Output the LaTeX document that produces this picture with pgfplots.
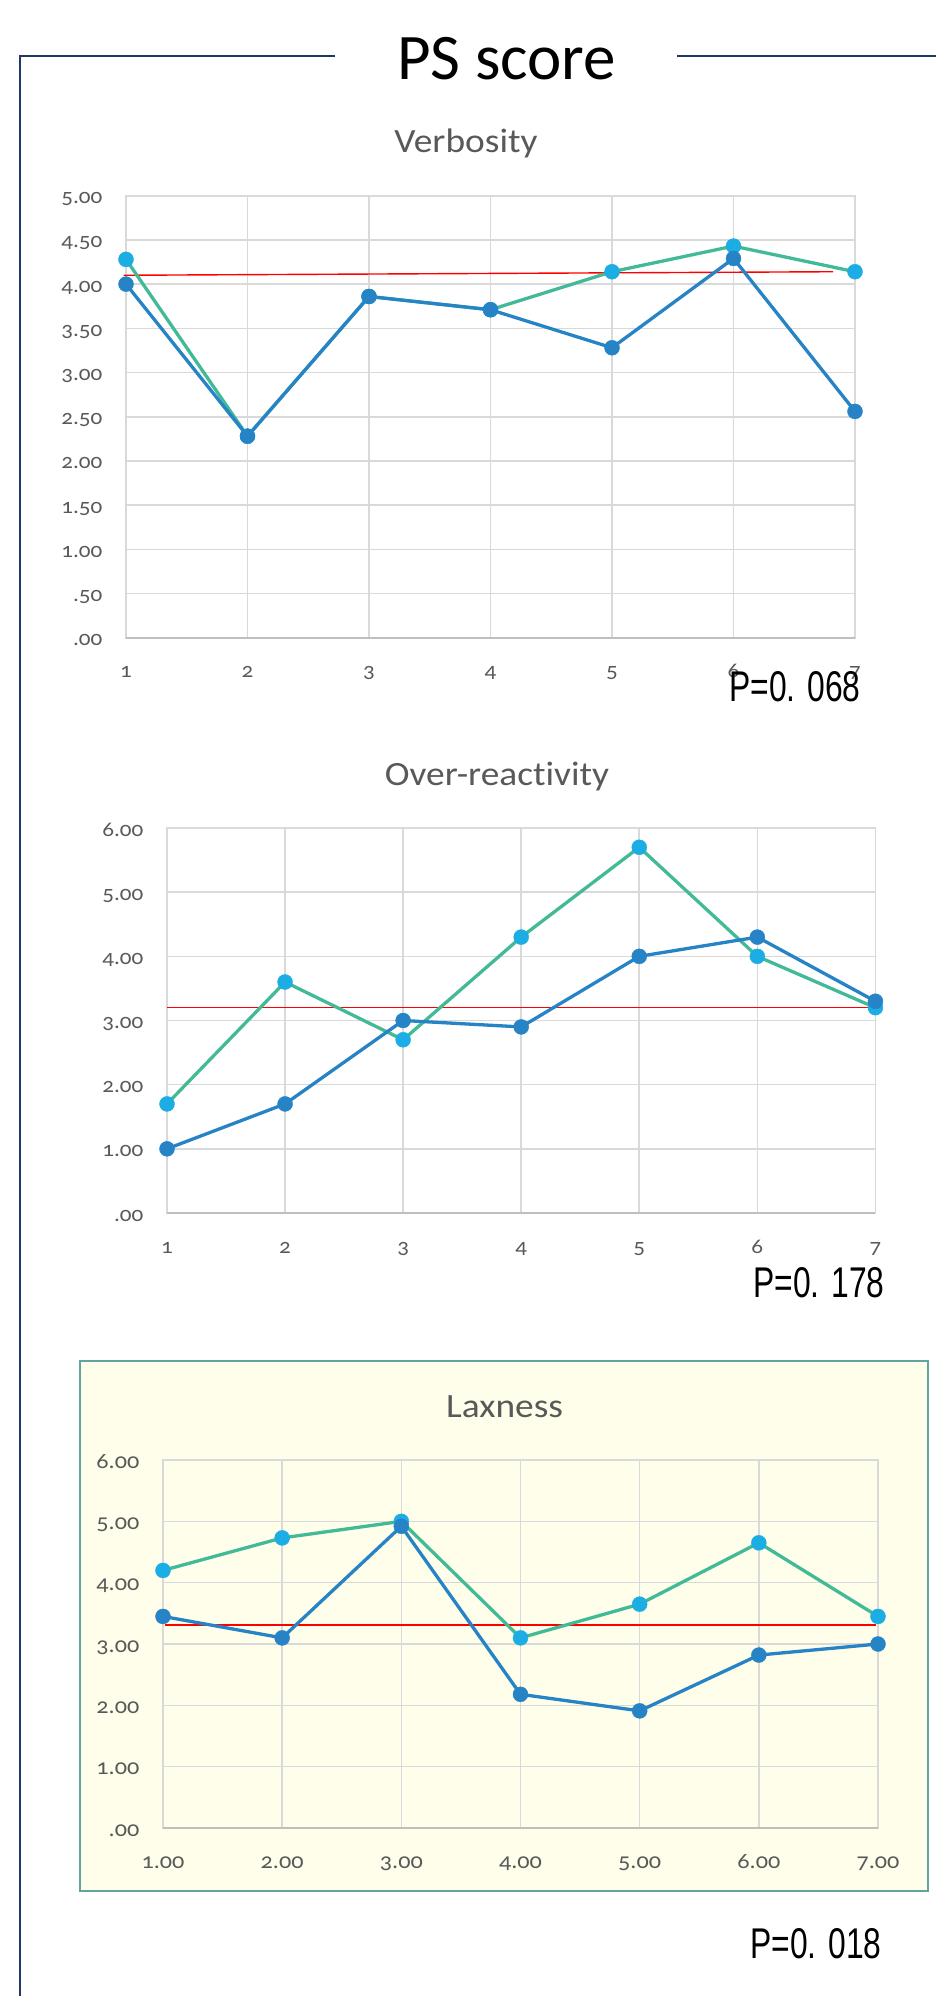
\documentclass[border=0pt]{standalone}
\usepackage{fontspec}
\setmainfont{Carlito}
\newfontfamily\chartfont[FakeStretch=1.1,Numbers=OldStyle,Ligatures=NoCommon]{Carlito}
\newfontfamily\pfont[FakeStretch=0.74]{Liberation Sans}
\usepackage{pgfplots}
\pgfplotsset{compat=1.18}

\definecolor{frameblue}{HTML}{1F3864}
\definecolor{gridc}{HTML}{D9D9D9}
\definecolor{axisc}{HTML}{BFBFBF}
\definecolor{txtgray}{HTML}{595959}
\definecolor{accA}{HTML}{1CADE4}
\definecolor{accB}{HTML}{2683C6}
\definecolor{accD}{HTML}{42BA97}
\definecolor{boxfill}{HTML}{FEFEEA}
\definecolor{boxedge}{HTML}{62A39F}

\pgfplotsset{
  pschart/.style={
    scale only axis, enlargelimits=false, clip=false,
    xmin=1, xmax=7, ymin=0,
    xtick={1,...,7},
    grid=major,
    major grid style={draw=gridc, line width=1.6pt},
    axis line style={draw=gridc, line width=1.6pt},
    tick style={draw=none}, major tick length=0pt,
    tick label style={font=\chartfont\fontsize{21}{21}\selectfont, text=txtgray, inner sep=0pt},
    xticklabel style={anchor=base, yshift=-40pt},
    yticklabel style={anchor=base east, xshift=-23.5pt, yshift=-8pt},
  },
  grpA/.style={draw=accD, line width=3.3pt, mark=*, mark size=7.5pt,
    mark options={solid, draw=accA, fill=accA, line width=0.4pt}},
  grpB/.style={draw=accB, line width=3.3pt, mark=*, mark size=7.5pt,
    mark options={solid, draw=accB, fill=accB, line width=0.4pt}},
  refline/.style={draw=red, line width=1.4pt, no marks},
}

\begin{document}
\begin{tikzpicture}
\path[use as bounding box] (0pt,0pt) rectangle (935pt,-1996pt);

% outer frame and heading
\draw[frameblue, line width=2.5pt] (335pt,-56pt) -- (20pt,-56pt) -- (20pt,-2000pt);
\draw[frameblue, line width=2.5pt] (677pt,-56pt) -- (940pt,-56pt);
\node[anchor=base west, inner sep=0pt, font=\fontsize{65}{65}\selectfont] at (397pt,-80pt) {PS score};

% ---------- Verbosity ----------
\node[anchor=base, inner sep=0pt, font=\chartfont\fontsize{34}{34}\selectfont, text=txtgray] at (466pt,-152.3pt) {Verbosity};
\begin{axis}[pschart, at={(126pt,-637.7pt)}, anchor=south west,
  width=729pt, height=442pt, ymax=5,
  ytick={0,0.5,...,5},
  yticklabels={.00,.50,1.00,1.50,2.00,2.50,3.00,3.50,4.00,4.50,5.00},
  xticklabels={1,2,3,4,5,6,7}]
\addplot[refline] coordinates {(0.98,4.10) (6.82,4.14)};
\addplot[grpA] coordinates {(1,4.28) (2,2.28) (3,3.86) (4,3.71) (5,4.14) (6,4.43) (7,4.14)};
\addplot[grpB] coordinates {(1,4.00) (2,2.28) (3,3.86) (4,3.71) (5,3.28) (6,4.29) (7,2.56)};
\draw[axisc, line width=1.8pt] (axis cs:1,0) -- (axis cs:7,0);
\end{axis}
\node[anchor=base west, inner sep=0pt, font=\pfont\fontsize{43}{43}\selectfont] at (729pt,-701pt) {P=0. 068};

% ---------- Over-reactivity ----------
\node[anchor=base, inner sep=0pt, font=\chartfont\fontsize{34}{34}\selectfont, text=txtgray] at (497pt,-785pt) {Over-reactivity};
\begin{axis}[pschart, at={(167pt,-1213pt)}, anchor=south west,
  width=708.4pt, height=385pt, ymax=6,
  ytick={0,1,...,6},
  yticklabels={.00,1.00,2.00,3.00,4.00,5.00,6.00},
  xticklabels={1,2,3,4,5,6,7}]
\addplot[refline] coordinates {(1,3.2) (7,3.2)};
\addplot[grpA] coordinates {(1,1.7) (2,3.6) (3,2.7) (4,4.3) (5,5.7) (6,4.0) (7,3.2)};
\addplot[grpB] coordinates {(1,1.0) (2,1.7) (3,3.0) (4,2.9) (5,4.0) (6,4.3) (7,3.3)};
\draw[axisc, line width=1.8pt] (axis cs:1,0) -- (axis cs:7,0);
\end{axis}
\node[anchor=base west, inner sep=0pt, font=\pfont\fontsize{43}{43}\selectfont] at (753pt,-1297pt) {P=0. 178};

% ---------- Laxness ----------
\draw[boxedge, line width=2pt, fill=boxfill] (79.5pt,-1360.7pt) rectangle (928pt,-1891pt);
\node[anchor=base, inner sep=0pt, font=\chartfont\fontsize{34}{34}\selectfont, text=txtgray] at (504.6pt,-1417pt) {Laxness};
\begin{axis}[pschart, at={(163pt,-1828pt)}, anchor=south west,
  width=715pt, height=368pt, ymax=6,
  ytick={0,1,...,6},
  yticklabels={.00,1.00,2.00,3.00,4.00,5.00,6.00},
  xticklabels={1.00,2.00,3.00,4.00,5.00,6.00,7.00},
  tick label style={font=\chartfont\fontsize{22}{22}\selectfont}]
\addplot[refline] coordinates {(1.02,3.31) (6.98,3.31)};
\addplot[grpA] coordinates {(1,4.20) (2,4.73) (3,5.00) (4,3.10) (5,3.65) (6,4.65) (7,3.45)};
\addplot[grpB] coordinates {(1,3.45) (2,3.10) (3,4.92) (4,2.18) (5,1.91) (6,2.82) (7,3.00)};
\draw[axisc, line width=1.8pt] (axis cs:1,0) -- (axis cs:7,0);
\end{axis}
\node[anchor=base west, inner sep=0pt, font=\pfont\fontsize{43}{43}\selectfont] at (750pt,-1958pt) {P=0. 018};
\end{tikzpicture}
\end{document}
